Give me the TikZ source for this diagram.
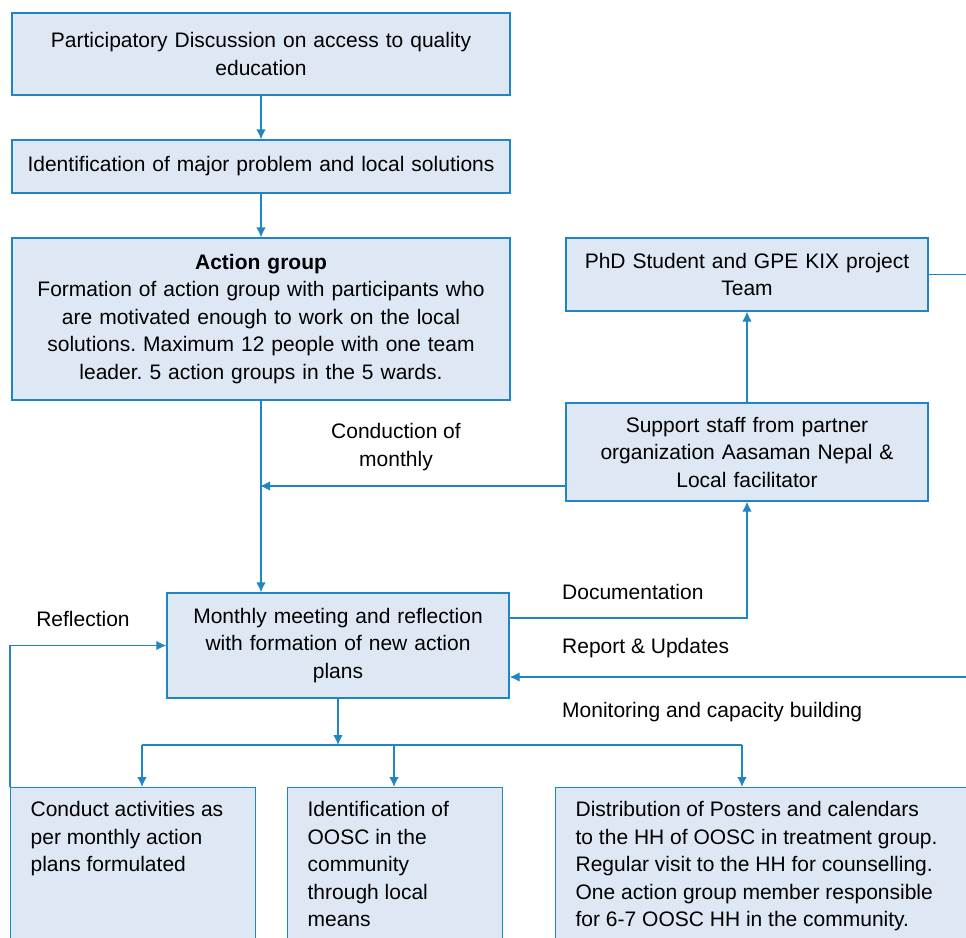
\documentclass[tikz,border=0pt]{standalone}
\usepackage{fontspec}
\setmainfont{Liberation Sans}
\frenchspacing
\usetikzlibrary{arrows.meta,positioning,calc}
\definecolor{boxblue}{HTML}{DDE8F4}
\definecolor{lineblue}{HTML}{1F86C3}

\begin{document}
\begin{tikzpicture}[x=1pt, y=-1pt, >={Latex[length=10pt,width=9.5pt]},
  font=\fontsize{21}{27.5}\selectfont,
  flowbox/.style={draw=lineblue, fill=boxblue, line width=1.3pt, align=center, inner xsep=8pt, inner ysep=0pt},
  listbox/.style={draw=lineblue, fill=boxblue, line width=1.3pt, anchor=north west, inner xsep=20pt, inner ysep=14pt},
  link/.style={draw=lineblue, line width=1.3pt},
  tag/.style={anchor=west, inner sep=0pt}]
  \useasboundingbox (0,0) rectangle (966,937);
  \clip (0,0) rectangle (966,937);

  % main column
  \node[flowbox, text width=482pt, minimum height=82pt] (discuss) at (261,54) {Participatory Discussion on access to quality\\education};
  \node[flowbox, text width=482pt, minimum height=53pt] (problem) at (261,166.5) {Identification of major problem and local solutions};
  \node[flowbox, text width=482pt, minimum height=162pt] (action) at (261,319) {{\bfseries Action group}\\Formation of action group with participants who\\are motivated enough to work on the local\\solutions. Maximum 12 people with one team\\leader. 5 action groups in the 5 wards.};
  \node[flowbox, text width=326pt, minimum height=105pt] (meeting) at (338,645.5) {Monthly meeting and reflection\\with formation of new action\\plans};

  % support side
  \node[flowbox, text width=346pt, minimum height=73pt] (phd) at (747,274.5) {PhD Student and GPE KIX project\\Team};
  \node[flowbox, text width=346pt, minimum height=98pt] (support) at (747,452) {Support staff from partner\\organization Aasaman Nepal \&\\Local facilitator};

  % activities
  \node[listbox] (conduct) at (10,787) {\parbox[t][170pt][t]{205pt}{\raggedright Conduct activities as\\per monthly action\\plans formulated}};
  \node[listbox] (identify) at (287,787) {\parbox[t][170pt][t]{175pt}{\raggedright Identification of\\OOSC in the\\community\\through local\\means}};
  \node[listbox] (posters) at (555,787) {\parbox[t][170pt][t]{371pt}{\raggedright Distribution of Posters and calendars\\to the HH of OOSC in treatment group.\\Regular visit to the HH for counselling.\\One action group member responsible\\for 6-7 OOSC HH in the community.}};

  % labels
  \node[align=center] (conduction) at (396,447) {Conduction of\\monthly};
  \node (reflect) at (83,619) {Reflection};
  \node[tag] (documentation) at (562,592) {Documentation};
  \node[tag] (report) at (562,648) {Report \& Updates};
  \node[tag] (monitoring) at (562,712) {Monitoring and capacity building};

  \coordinate (monthlyend) at (260,486);
  \coordinate (reportin) at (966,677);
  \coordinate (split) at (338,745);
  \coordinate (splitA) at (142,745);
  \coordinate (splitB) at (394,745);
  \coordinate (splitC) at (742,745);

  \draw[link,->] (discuss) -- (problem);
  \draw[link,->] (problem) -- (action);
  \draw[link,->] (action) -- (action.south |- meeting.north);
  \draw[link,->] (support) -- (phd);
  \draw[link,->] (support.west |- monthlyend) -- (monthlyend);
  \draw[link,->] ([yshift=27.5pt]meeting.east) -| (support.south);
  \draw[link,->] (reportin) -- (meeting.east |- reportin);
  \draw[link] (phd.east) -- (phd.east -| reportin);
  \draw[link,->] (conduct.north west) |- (meeting.west);

  \draw[link,->] (meeting) -- (split);
  \draw[link] (splitA) -- (splitC);
  \draw[link,->] (splitA) -- (splitA |- conduct.north);
  \draw[link,->] (splitB) -- (splitB |- identify.north);
  \draw[link,->] (splitC) -- (splitC |- posters.north);
\end{tikzpicture}
\end{document}
